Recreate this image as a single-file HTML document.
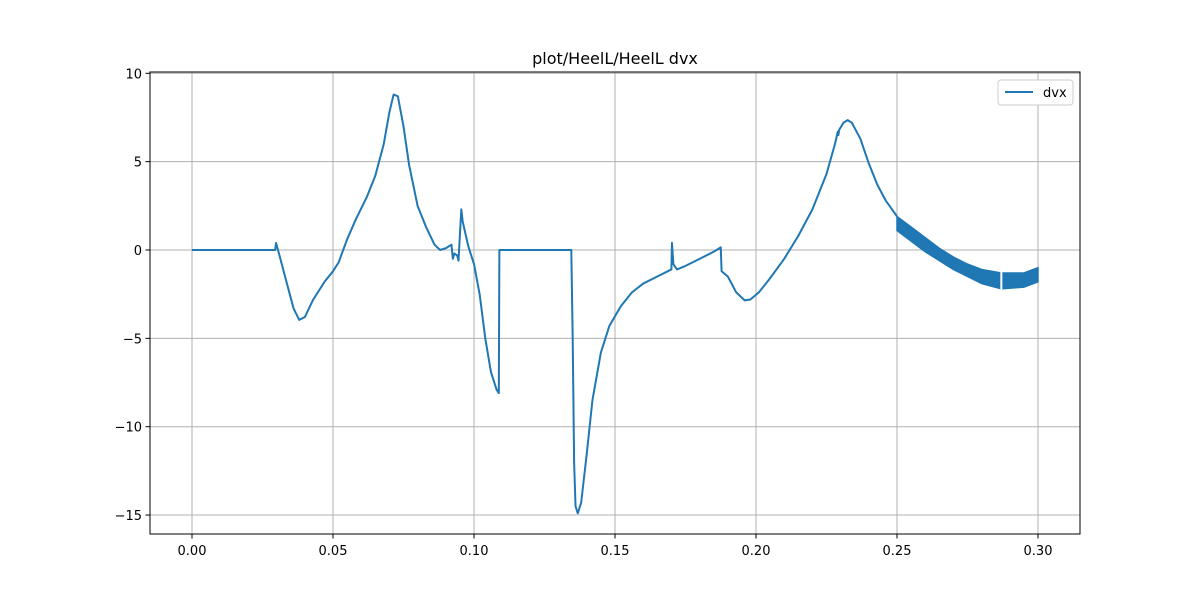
<!DOCTYPE html>
<html><head><meta charset="utf-8"><style>
body{margin:0;background:#fff;}
svg text{font-family:"DejaVu Sans","Liberation Sans",sans-serif;}
</style></head><body>
<svg id="chart" width="1200" height="600" xmlns="http://www.w3.org/2000/svg">
<rect width="1200" height="600" fill="#fff"/>
<text x="615" y="64" font-size="16" text-anchor="middle">plot/HeelL/HeelL dvx</text>
<g id="grid"></g>
<g id="marks"></g>
<rect x="150" y="72" width="930" height="462" fill="none" stroke="#000" stroke-width="1"/>
<g id="ticks"></g>
<g>
<rect x="998" y="80" width="75" height="25" rx="3" fill="#fff" stroke="#ccc"/>
<line x1="1005" y1="92" x2="1033" y2="92" stroke="#1f77b4" stroke-width="2"/>
<text x="1043" y="97" font-size="13">dvx</text>
</g>
</svg>
<script>
const xTicks=[0,0.05,0.10,0.15,0.20,0.25,0.30];
const xTickLabels=["0.00","0.05","0.10","0.15","0.20","0.25","0.30"];
const yTicks=[10,5,0,-5,-10,-15];
const yTickLabels=["10","5","0","−5","−10","−15"];
const seriesX=[0,0.0295,0.0298,0.0305,0.033,0.036,0.038,0.040,0.043,0.047,0.050,0.052,0.055,0.058,0.062,0.065,0.068,0.070,0.0715,0.073,0.075,0.077,0.080,0.083,0.086,0.088,0.090,0.092,0.0925,0.093,0.094,0.0945,0.0955,0.096,0.098,0.100,0.102,0.104,0.106,0.108,0.1088,0.109,0.1345,0.1350,0.1355,0.136,0.1368,0.138,0.140,0.142,0.145,0.148,0.152,0.156,0.160,0.165,0.1700,0.1702,0.1707,0.172,0.175,0.180,0.185,0.1875,0.1878,0.190,0.193,0.196,0.198,0.201,0.205,0.210,0.215,0.220,0.225,0.228,0.229,0.2292,0.2295,0.231,0.2325,0.234,0.237,0.240,0.243,0.246,0.250];
const seriesY=[0,0,0.4,0,-1.5,-3.3,-3.95,-3.8,-2.8,-1.8,-1.2,-0.7,0.6,1.7,3.0,4.2,6.0,7.8,8.8,8.7,7.0,4.8,2.5,1.3,0.3,0.0,0.1,0.3,-0.5,-0.2,-0.3,-0.6,2.3,1.6,0.2,-0.8,-2.5,-5.0,-6.9,-7.9,-8.1,0,0,-5,-12,-14.5,-14.9,-14.3,-11.5,-8.5,-5.8,-4.3,-3.2,-2.4,-1.9,-1.5,-1.1,0.4,-0.8,-1.1,-0.9,-0.5,-0.1,0.15,-1.2,-1.5,-2.4,-2.85,-2.8,-2.4,-1.6,-0.5,0.8,2.3,4.3,6.0,6.7,6.5,6.8,7.2,7.35,7.2,6.3,4.9,3.7,2.8,1.9];
const bandX=[0.25,0.255,0.26,0.265,0.27,0.275,0.28,0.287,0.295,0.30];
const bandUpper=[1.9,1.3,0.7,0.1,-0.4,-0.8,-1.1,-1.3,-1.3,-1.0];
const bandLower=[1.1,0.5,-0.1,-0.6,-1.1,-1.5,-1.9,-2.2,-2.1,-1.8];
const gapX=0.287;
const NS="http://www.w3.org/2000/svg";
const xs=v=>192+v*2820;
const ys=v=>250-v*17.67;
const grid=document.getElementById('grid'),ticks=document.getElementById('ticks'),marks=document.getElementById('marks');
function mk(tag,attrs,parent){const e=document.createElementNS(NS,tag);for(const k in attrs)e.setAttribute(k,attrs[k]);parent.appendChild(e);return e;}
xTicks.forEach((t,i)=>{
 const g=mk('line',{x1:xs(t),x2:xs(t),y1:72,y2:534,stroke:'#b0b0b0','stroke-width':1},grid);
 
 
 mk('line',{x1:xs(t),x2:xs(t),y1:534,y2:538.5,stroke:'#000'},ticks);
 const tx=mk('text',{x:xs(t),y:555,'font-size':13,'text-anchor':'middle'},ticks);
 tx.textContent=xTickLabels[i];
 
 
});
yTicks.forEach((t,i)=>{
 const g=mk('line',{x1:150,x2:1080,y1:ys(t),y2:ys(t),stroke:'#b0b0b0','stroke-width':1},grid);
 
 
 mk('line',{x1:145.5,x2:150,y1:ys(t),y2:ys(t),stroke:'#000'},ticks);
 const tx=mk('text',{x:142,y:ys(t)+5,'font-size':13,'text-anchor':'end'},ticks);
 tx.textContent=yTickLabels[i];
 
 
});
const line=mk('polyline',{points:seriesX.map((x,i)=>xs(x)+','+ys(seriesY[i])).join(' '),fill:'none',stroke:'#1f77b4','stroke-width':2,'stroke-linejoin':'round'},marks);


const pts=bandX.map((x,i)=>xs(x)+','+ys(bandUpper[i])).concat(bandX.slice().reverse().map((x,i)=>xs(x)+','+ys(bandLower[bandX.length-1-i])));
const band=mk('polygon',{points:pts.join(' '),fill:'#1f77b4',stroke:'#1f77b4','stroke-width':1.5},marks);


const gap=mk('line',{x1:xs(gapX),x2:xs(gapX),y1:ys(-1.2),y2:ys(-2.4),stroke:'#fff','stroke-width':2},marks);


</script>
</body></html>
